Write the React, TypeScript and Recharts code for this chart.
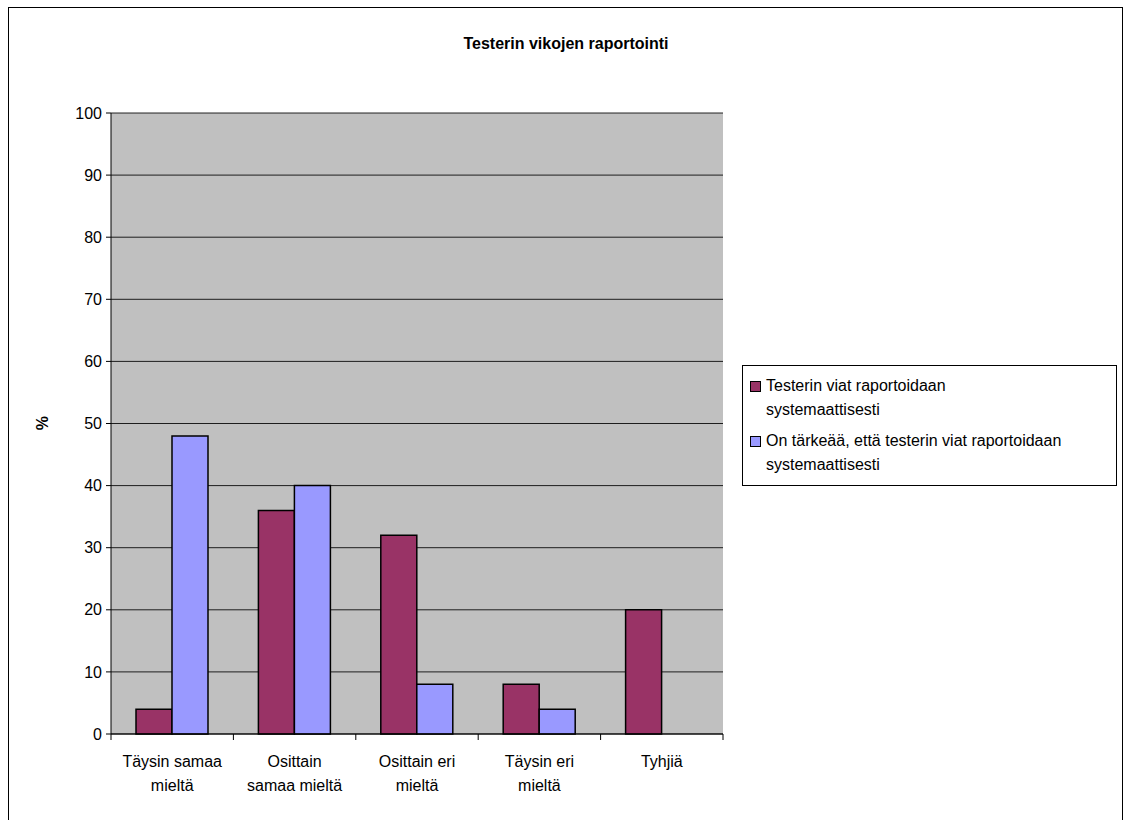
import React from "react";
import {
  BarChart,
  Bar,
  XAxis,
  YAxis,
  CartesianGrid,
  Legend,
} from "recharts";

const categories = [
  "Täysin samaa mieltä",
  "Osittain samaa mieltä",
  "Osittain eri mieltä",
  "Täysin eri mieltä",
  "Tyhjiä",
];
const categoryLines: string[][] = [
  ["Täysin samaa", "mieltä"],
  ["Osittain", "samaa mieltä"],
  ["Osittain eri", "mieltä"],
  ["Täysin eri", "mieltä"],
  ["Tyhjiä"],
];
const seriesNames = [
  "Testerin viat raportoidaan systemaattisesti",
  "On tärkeää, että testerin viat raportoidaan systemaattisesti",
];
const legendLines: string[][] = [
  ["Testerin viat raportoidaan", "systemaattisesti"],
  ["On tärkeää, että testerin viat raportoidaan", "systemaattisesti"],
];
const seriesA = [4, 36, 32, 8, 20];
const seriesB = [48, 40, 8, 4, 0];
const yTicks = [0, 10, 20, 30, 40, 50, 60, 70, 80, 90, 100];
const colors = ["#993366", "#9999FF"];
const title = "Testerin vikojen raportointi";

const data = categories.map((c, i) => ({
  name: c,
  a: seriesA[i],
  b: seriesB[i],
}));

const FONT = "'Liberation Sans', Arial, sans-serif";
const TICK_SIZE = 6;
const TICK_MARGIN = 2;

const CatTick = (props: any) => {
  const { x, y, payload, width } = props;
  const i = categories.indexOf(payload.value);
  const lines = categoryLines[i] || [payload.value];
  const half = width / categories.length / 2;
  const axisY = y - TICK_SIZE - TICK_MARGIN;
  return (
    <g>
      <line x1={x - half} x2={x - half} y1={axisY} y2={axisY + TICK_SIZE} stroke="#000" />
      {i === categories.length - 1 && (
        <line x1={x + half} x2={x + half} y1={axisY} y2={axisY + TICK_SIZE} stroke="#000" />
      )}
      <text
        x={x}
        y={axisY}
        textAnchor="middle"
        fontFamily={FONT}
        fontSize={16}
        fill="#000"
      >
        {lines.map((l, k) => (
          <tspan key={k} x={x} dy={k === 0 ? 33 : 24}>
            {l}
          </tspan>
        ))}
      </text>
    </g>
  );
};

const LegendContent = () => (
  <div
    style={{
      border: "1px solid #000",
      background: "#fff",
      width: 375,
      height: 121,
      boxSizing: "border-box",
      padding: "8px 0 0 7px",
      fontFamily: FONT,
      fontSize: 16,
      lineHeight: "24px",
      color: "#000",
    }}
  >
    {seriesNames.map((n, i) => (
      <div key={n} style={{ display: "flex", alignItems: "flex-start", marginBottom: 7 }}>
        <div
          style={{
            width: 9,
            height: 9,
            background: colors[i],
            border: "1px solid #000",
            marginTop: 7,
            marginRight: 5,
            flexShrink: 0,
          }}
        />
        <div>
          {legendLines[i].map((l, k) => (
            <div key={k}>{l}</div>
          ))}
        </div>
      </div>
    ))}
  </div>
);

export default function App() {
  return (
    <div
      style={{
        position: "absolute",
        left: 8,
        top: 7,
        width: 1115,
        height: 813,
        borderTop: "1px solid #000",
        borderLeft: "1px solid #000",
        borderRight: "1px solid #000",
        boxSizing: "border-box",
        background: "#fff",
        overflow: "hidden",
      }}
    >
      <BarChart
        width={1113}
        height={810}
        data={data}
        margin={{ top: 105, right: 399, bottom: 0, left: 42 }}
        barCategoryGap="21%"
        barGap={0}
      >
        <text
          x={557}
          y={37}
          textAnchor="middle"
          dominantBaseline="middle"
          fontFamily={FONT}
          fontSize={16}
          fontWeight="bold"
          fill="#000"
        >
          {title}
        </text>
        <text
          x={35}
          y={415}
          textAnchor="middle"
          dominantBaseline="middle"
          fontFamily={FONT}
          fontSize={16}
          fontWeight="bold"
          fill="#000"
          transform="rotate(-90 35 415)"
        >
          %
        </text>
        <CartesianGrid
          xAxisId="cat"
          yAxisId="left"
          vertical={false}
          fill="#C0C0C0"
          fillOpacity={1}
          stroke="#000"
          strokeOpacity={0.85}
        />
        <XAxis
          dataKey="name"
          xAxisId="cat"
          tickLine={false}
          tickSize={TICK_SIZE}
          tickMargin={TICK_MARGIN}
          axisLine={{ stroke: "#000" }}
          tick={<CatTick />}
          interval={0}
          height={84}
        />
        <YAxis
          yAxisId="left"
          domain={[0, 100]}
          ticks={yTicks}
          interval={0}
          width={60}
          tickSize={5}
          tickLine={{ stroke: "#000" }}
          axisLine={{ stroke: "#000" }}
          tick={{ fontFamily: FONT, fontSize: 16, fill: "#000" }}
          tickMargin={4}
        />
        <YAxis
          yAxisId="right"
          orientation="right"
          domain={[0, 100]}
          width={0}
          tick={false}
          tickLine={false}
          axisLine={{ stroke: "#808080" }}
        />
        <Legend
          layout="horizontal"
          align="center"
          verticalAlign="middle"
          content={<LegendContent />}
          wrapperStyle={{ position: "absolute", left: 733, top: 357, width: 375 }}
        />
        <Bar
          dataKey="a"
          name={seriesNames[0]}
          xAxisId="cat"
          yAxisId="left"
          fill={colors[0]}
          stroke="#000"
          strokeWidth={1.5}
          barSize={36}
          isAnimationActive={false}
        />
        <Bar
          dataKey="b"
          name={seriesNames[1]}
          xAxisId="cat"
          yAxisId="left"
          fill={colors[1]}
          stroke="#000"
          strokeWidth={1.5}
          barSize={36}
          isAnimationActive={false}
        />
      </BarChart>
    </div>
  );
}
